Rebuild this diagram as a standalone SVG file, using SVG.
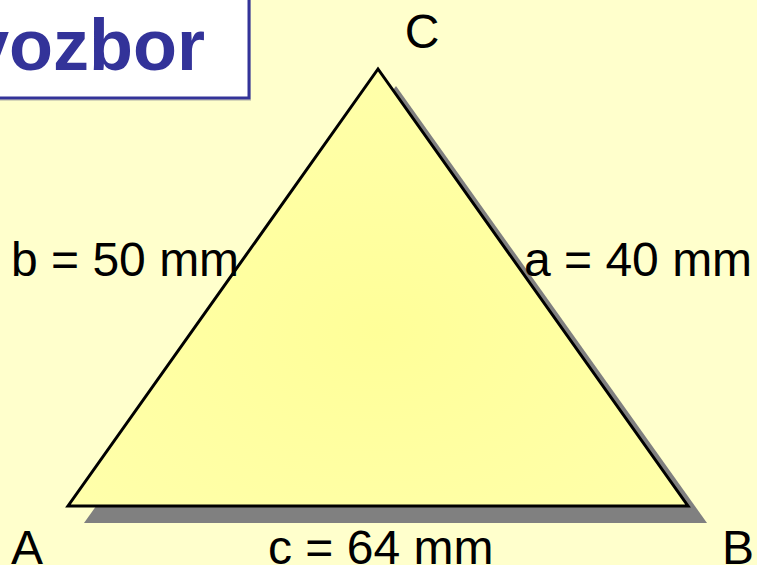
<svg xmlns="http://www.w3.org/2000/svg" width="757" height="565" viewBox="0 0 757 565">
<style>
.lbl{font-family:"Liberation Sans",Arial,sans-serif;font-size:48px;fill:#000}
.title{font-family:"Liberation Sans",Arial,sans-serif;font-size:72px;font-weight:bold;fill:#333399}
</style>
<defs>
<radialGradient id="tri" cx="0.5" cy="0.6" r="0.6">
<stop offset="0" stop-color="#FFFF99"/>
<stop offset="1" stop-color="#FFFFAA"/>
</radialGradient>
</defs>
<rect x="0" y="0" width="757" height="565" fill="#FFFFCC"/>
<g id="title">
<rect x="-10" y="-10" width="261" height="111" fill="#999999" opacity="0.4"/>
<rect x="-10" y="-10" width="259" height="108" fill="#FFFFFF" stroke="#333399" stroke-width="3"/>
<text class="title" x="-31" y="70">vozbor</text>
</g>
<g id="triangle">
<polygon points="84,523 707,523 396,86" fill="#808080"/>
<polygon points="68,506 688,506 378,69" fill="url(#tri)" stroke="#000" stroke-width="3" stroke-linejoin="miter"/>
</g>
<g id="labels">
<text class="lbl" x="422" y="48" text-anchor="middle">C</text>
<text class="lbl" x="11" y="276">b = 50 mm</text>
<text class="lbl" x="524" y="276">a = 40 mm</text>
<text class="lbl" x="11" y="564">A</text>
<text class="lbl" x="268" y="564">c = 64 mm</text>
<text class="lbl" x="722" y="564">B</text>
</g>
</svg>
